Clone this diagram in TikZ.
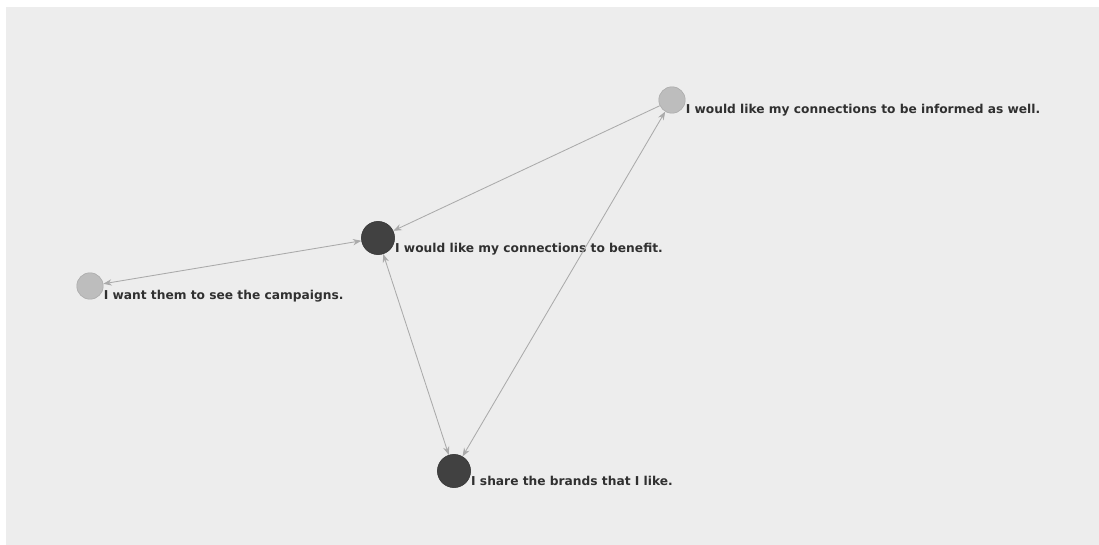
\documentclass[tikz,border=0pt]{standalone}
\usepackage{fontspec}
\setmainfont{DejaVu Sans}
\usetikzlibrary{positioning,arrows.meta}

\definecolor{bggray}{HTML}{EDEDED}
\definecolor{darknode}{HTML}{414141}
\definecolor{lightnode}{HTML}{BDBDBD}
\definecolor{edgegray}{HTML}{AAAAAA}
\definecolor{labeltext}{HTML}{303030}

\tikzset{
    dark/.style={circle, fill=darknode, draw=darknode!80!black, inner sep=0pt, minimum size=0.83cm},
    light/.style={circle, fill=lightnode, draw=lightnode!90!black, inner sep=0pt, minimum size=0.66cm},
    lbl/.style={anchor=west, inner sep=0pt, text=labeltext, font=\bfseries\fontsize{8.7}{10}\selectfont},
    link/.style={draw=edgegray, line width=0.6pt, -{Stealth[length=6pt,width=4.5pt]}},
    both/.style={link, {Stealth[length=6pt,width=4.5pt]}-{Stealth[length=6pt,width=4.5pt]}}
}

\begin{document}
\begin{tikzpicture}[x=0.025cm, y=-0.025cm]
    \useasboundingbox (0,0) rectangle (1099,545);
    \fill[white] (0,0) rectangle (1099,545);
    \fill[bggray] (6,7) rectangle (1099,545);

    % nodes
    \node[dark]  (benefit)   at (378,238) {};
    \node[light] (informed)  at (672,100) {};
    \node[light] (campaigns) at (90,286)  {};
    \node[dark]  (brands)    at (454,471) {};

    % labels
    \node[lbl] (benefitL)   at ([yshift=-0.27cm]benefit.east)   {I would like my connections to benefit.};
    \node[lbl] (informedL)  at ([yshift=-0.26cm]informed.east)  {I would like my connections to be informed as well.};
    \node[lbl] (campaignsL) at ([yshift=-0.26cm]campaigns.east) {I want them to see the campaigns.};
    \node[lbl] (brandsL)    at ([yshift=-0.24cm]brands.east)    {I share the brands that I like.};

    % links
    \draw[link] (informed) -- (benefit);
    \draw[both] (campaigns) -- (benefit);
    \draw[both] (benefit) -- (brands);
    \draw[both] (brands) -- (informed);
\end{tikzpicture}
\end{document}
